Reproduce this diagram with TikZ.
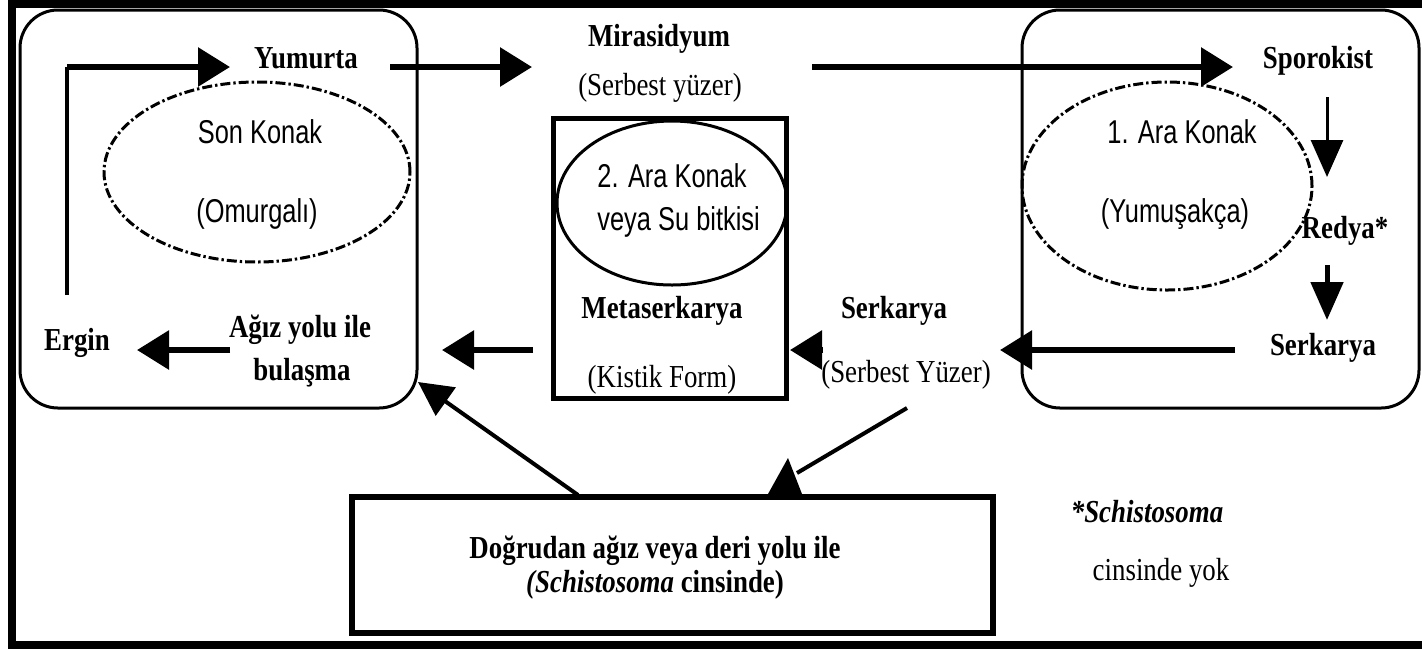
\documentclass[tikz,border=0pt]{standalone}
\usepackage{fontspec}
\setmainfont{Liberation Serif}[FakeStretch=0.84]
\newfontfamily\sansf{Liberation Sans}[FakeStretch=0.77]
\usetikzlibrary{arrows.meta,shapes.geometric}
\tikzset{
  Big/.tip={Triangle[length=16pt,width=19pt]},
  ThinTip/.tip={Triangle[length=18.5pt,width=16pt]},
  MidTip/.tip={Triangle[length=19pt,width=16pt]},
  DiagTip/.tip={Triangle[length=17pt,width=17pt]},
  bl/.style={inner sep=0pt, anchor=base, font=\fontsize{16}{19}\selectfont\bfseries},
  rl/.style={inner sep=0pt, anchor=base, font=\fontsize{16}{19}\selectfont},
  sl/.style={inner sep=0pt, anchor=base, font=\fontsize{16.5}{19}\sansf},
  hostbox/.style={draw, line width=1.5pt, rounded corners=19pt, inner sep=0pt},
  plainbox/.style={draw, inner sep=0pt},
  dashell/.style={draw, ellipse, inner sep=0pt, line width=1.5pt,
     dash pattern=on 5pt off 1.5pt on 1.2pt off 1.5pt},
  thk/.style={line width=3pt},
}
\begin{document}
\begin{tikzpicture}[x=0.5pt,y=-0.5pt]
\useasboundingbox (0,0) rectangle (1422,650);
% outer frame
\draw[line width=4pt] (12,3.5) rectangle (1428,645);

% host boxes
\node[hostbox, minimum width=198.5pt, minimum height=199pt] (lbox) at (218.5,209) {};
\node[hostbox, minimum width=198.5pt, minimum height=199pt] (rbox) at (1220.5,209) {};
\node[plainbox, line width=2.5pt, minimum width=116.5pt, minimum height=140pt] (mbox) at (669.5,258) {};
\node[plainbox, line width=2.8pt, minimum width=320.5pt, minimum height=68pt] (bbox) at (672.5,565) {};

% ellipses
\node[dashell, minimum width=153pt, minimum height=90pt] (lell) at (257,172) {};
\node[dashell, minimum width=145pt, minimum height=104pt] (rell) at (1167,186) {};
\node[draw, ellipse, inner sep=0pt, line width=1.5pt, minimum width=115pt, minimum height=82pt] (mell) at (672,203) {};

% texts
\node[bl] (yum) at (306,68) {Yumurta};
\node[sl] (son) at (260,143) {Son Konak};
\node[sl] (omu) at (257,222) {(Omurgalı)};
\node[bl] (erg) at (77,350) {Ergin};
\node[bl] (agz1) at (300,337) {Ağız yolu ile};
\node[bl] (agz2) at (302,380) {bulaşma};
\node[bl] (mir) at (659,46) {Mirasidyum};
\node[rl] (mir2) at (660,95) {(Serbest yüzer)};
\node[sl, anchor=base west] (ak2a) at (597,187) {2. Ara Konak};
\node[sl, anchor=base west] (ak2b) at (597,230) {veya Su bitkisi};
\node[bl] (met) at (662,318) {Metaserkarya};
\node[rl] (met2) at (662,387) {(Kistik Form)};
\node[bl] (ser1) at (894,318) {Serkarya};
\node[rl] (ser1b) at (906,382) {(Serbest Yüzer)};
\node[bl] (spo) at (1318,68) {Sporokist};
\node[sl] (ak1a) at (1182,143) {1. Ara Konak};
\node[sl] (ak1b) at (1175,222) {(Yumuşakça)};
\node[bl] (red) at (1345,238) {Redya*};
\node[bl] (ser2) at (1323,355) {Serkarya};
\node[bl] (dog1) at (655,558) {Doğrudan ağız veya deri yolu ile};
\node[bl] (dog2) at (655,592) {\textit{(Schistosoma} cinsinde)};
\node[bl, font=\fontsize{16}{19}\selectfont\bfseries\itshape] (fn1) at (1147,522) {*Schistosoma};
\node[rl] (fn2) at (1161,580) {cinsinde yok};

% connector coordinates
\coordinate (ergUp) at (67,295);
\coordinate (ergCorner) at (67,67);
\coordinate (yumIn) at (230,67);
\coordinate (yumOut) at (390,67);
\coordinate (mirIn) at (532,67);
\coordinate (mirOut) at (812,67);
\coordinate (spoIn) at (1233,67);
\coordinate (spoOut) at (1327,97);
\coordinate (redIn) at (1327,177);
\coordinate (redOut) at (1327,265);
\coordinate (ser2In) at (1327,320);
\coordinate (ser2Out) at (1235,350);
\coordinate (ser1In) at (1000,350);
\coordinate (ser1Out) at (823,350);
\coordinate (metIn) at (790,350);
\coordinate (metOut) at (533,350);
\coordinate (lboxIn) at (442,350);
\coordinate (agzOut) at (230,350);
\coordinate (ergIn) at (137,350);
\coordinate (bboxOut) at (578,495);
\coordinate (lboxCorner) at (418,382);
\coordinate (serDown) at (907,408);
\coordinate (bboxIn) at (797,473);

% connectors
\draw[line width=2pt] (ergUp) -- (ergCorner);
\draw[thk, -Big] (ergCorner) -- (yumIn);
\draw[thk, -Big] (yumOut) -- (mirIn);
\draw[thk, -Big] (mirOut) -- (spoIn);
\draw[line width=1.5pt, -ThinTip] (spoOut) -- (redIn);
\draw[line width=2.5pt, -MidTip] (redOut) -- (ser2In);
\draw[thk, -Big] (ser2Out) -- (ser1In);
\draw[thk, -Big] (ser1Out) -- (metIn);
\draw[thk, -Big] (metOut) -- (lboxIn);
\draw[thk, -Big] (agzOut) -- (ergIn);
\draw[line width=2pt, -DiagTip] (bboxOut) -- (lboxCorner);
\draw[line width=2pt] (serDown) -- (bboxIn);
\fill (788,458) -- (768,494) -- (802,494) -- cycle;
\end{tikzpicture}
\end{document}
